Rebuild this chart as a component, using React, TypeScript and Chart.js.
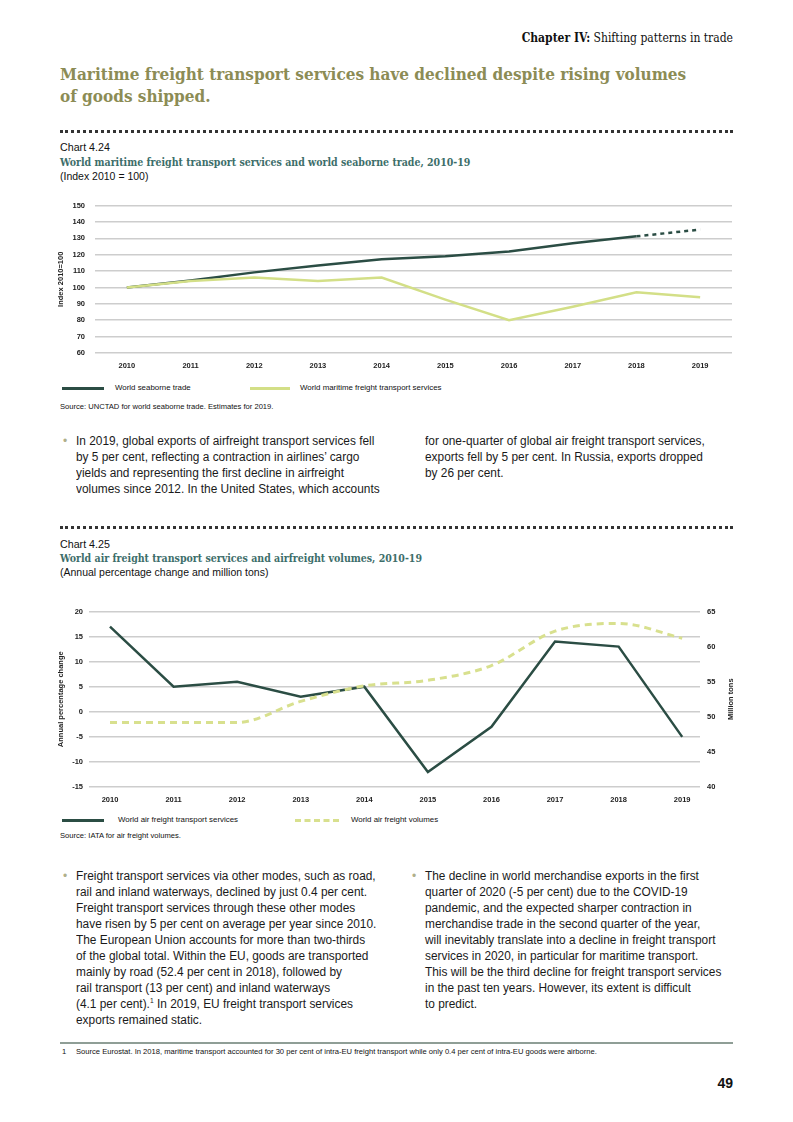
import React, { useEffect, useRef } from "react";
import { Chart, registerables } from "chart.js";

Chart.register(...registerables);

// ---- Chart 4.24 data ----
const years1 = ["2010", "2011", "2012", "2013", "2014", "2015", "2016", "2017", "2018", "2019"];
const seaborneTrade = [100, 104.3, 109.2, 113.4, 117.2, 119.1, 122, 127, 131.2, 135.3];
const maritimeServices = [100, 104, 106, 104, 106, 92.6, 80, 88.2, 97, 94];

// ---- Chart 4.25 data ----
const years2 = [2010, 2011, 2012, 2013, 2014, 2015, 2016, 2017, 2018, 2019];
const airServicesChange = [17, 5, 6, 3, 5, -12, -3, 14, 13, -5];
const airVolumesTons = [49.2, 49.2, 49.2, 52.2, 54.4, 55.2, 57.3, 62.2, 63.3, 61.2];

const DARK = "#2b4d44";
const LIGHT = "#d3df87";
const GRID = "#cdcdcd";
const SANS = "'Liberation Sans', Arial, sans-serif";
const SLAB = "'DejaVu Serif Condensed', 'DejaVu Serif', serif";

function Chart1() {
  const ref = useRef<HTMLCanvasElement>(null);
  useEffect(() => {
    const chart = new Chart(ref.current!, {
      type: "line",
      data: {
        labels: years1,
        datasets: [
          {
            label: "World maritime freight transport services",
            data: maritimeServices,
            borderColor: LIGHT,
            borderWidth: 2.5,
            pointRadius: 0,
            tension: 0,
          },
          {
            label: "World seaborne trade",
            data: seaborneTrade,
            borderColor: DARK,
            borderWidth: 2.5,
            pointRadius: 0,
            tension: 0,
            segment: {
              borderDash: (ctx: any) => (ctx.p1DataIndex === seaborneTrade.length - 1 ? [4, 4] : undefined),
            },
          },
        ],
      },
      options: {
        animation: false,
        responsive: false,
        maintainAspectRatio: false,
        layout: { padding: { top: 0, right: 1, left: 0, bottom: 0 } },
        plugins: { legend: { display: false }, tooltip: { enabled: false } },
        scales: {
          x: {
            type: "category",
            offset: true,
            grid: { display: false, drawTicks: false },
            border: { display: false },
            ticks: { font: { family: SANS, size: 7.5, weight: "bold" }, color: "#222", padding: 8, maxRotation: 0 },
            afterFit: (s: any) => { s.height = 20; },
          },
          y: {
            min: 60,
            max: 150,
            ticks: { stepSize: 10, font: { family: SANS, size: 7.5, weight: "bold" }, color: "#222", padding: 10 },
            grid: { color: GRID, lineWidth: 1.5, drawTicks: false },
            border: { display: false },
            title: { display: true, text: "Index 2010=100", font: { family: SANS, size: 7.5, weight: "bold" }, color: "#222", padding: 0 },
            afterFit: (s: any) => { s.width = 39; },
          },
        },
      },
    });
    return () => chart.destroy();
  }, []);
  return <canvas ref={ref} width={677} height={182} style={{ position: "absolute", left: 56, top: 191, width: 677, height: 182 }} />;
}

const rightTitlePlugin = {
  id: "rightTitle",
  afterDraw(chart: any) {
    const { ctx, chartArea } = chart;
    ctx.save();
    ctx.translate(chart.width - 6, (chartArea.top + chartArea.bottom) / 2);
    ctx.rotate(-Math.PI / 2);
    ctx.font = `bold 7.5px ${SANS}`;
    ctx.fillStyle = "#222";
    ctx.textAlign = "center";
    ctx.textBaseline = "middle";
    ctx.fillText("Million tons", 0, 0);
    ctx.restore();
  },
};

function Chart2() {
  const ref = useRef<HTMLCanvasElement>(null);
  useEffect(() => {
    const chart = new Chart(ref.current!, {
      type: "line",
      data: {
        datasets: [
          {
            label: "World air freight volumes",
            data: years2.map((y, i) => ({ x: y, y: airVolumesTons[i] })),
            yAxisID: "y1",
            borderColor: "#d8e08e",
            borderWidth: 3,
            borderDash: [7, 5],
            pointRadius: 0,
            cubicInterpolationMode: "monotone",
          },
          {
            label: "World air freight transport services",
            data: years2.map((y, i) => ({ x: y, y: airServicesChange[i] })),
            yAxisID: "y",
            borderColor: DARK,
            borderWidth: 2.5,
            pointRadius: 0,
            tension: 0,
          },
        ],
      },
      options: {
        animation: false,
        responsive: false,
        maintainAspectRatio: false,
        layout: { padding: { top: 3, right: 0, left: 0, bottom: 0 } },
        plugins: { legend: { display: false }, tooltip: { enabled: false } },
        scales: {
          x: {
            type: "linear",
            min: 2009.67,
            max: 2019.28,
            grid: { display: false, drawTicks: false },
            border: { display: false },
            afterBuildTicks: (s: any) => { s.ticks = years2.map((v) => ({ value: v })); },
            ticks: { font: { family: SANS, size: 7.5, weight: "bold" }, color: "#222", padding: 8, maxRotation: 0, callback: (v: any) => String(v) },
            afterFit: (s: any) => { s.height = 20; },
          },
          y: {
            position: "left",
            min: -15,
            max: 20,
            ticks: { stepSize: 5, font: { family: SANS, size: 7.5, weight: "bold" }, color: "#222", padding: 6 },
            grid: { color: GRID, lineWidth: 1.5, drawTicks: false },
            border: { display: false },
            title: { display: true, text: "Annual percentage change", font: { family: SANS, size: 7.5, weight: "bold" }, color: "#222", padding: 0 },
            afterFit: (s: any) => { s.width = 33; },
          },
          y1: {
            position: "right",
            min: 40,
            max: 65,
            ticks: { stepSize: 5, font: { family: SANS, size: 7.5, weight: "bold" }, color: "#222", padding: 7 },
            grid: { display: false, drawTicks: false },
            border: { display: false },
            afterFit: (s: any) => { s.width = 37; },
          },
        },
      },
      plugins: [rightTitlePlugin],
    });
    return () => chart.destroy();
  }, []);
  return <canvas ref={ref} width={681} height={207} style={{ position: "absolute", left: 56, top: 600, width: 681, height: 207 }} />;
}

const abs = (left: number, top: number, extra: React.CSSProperties = {}): React.CSSProperties => ({
  position: "absolute",
  left,
  top,
  margin: 0,
  ...extra,
});

function Bullet({ left, top }: { left: number; top: number }) {
  return <div style={abs(left, top, { color: "#b0b08a", fontSize: 12, lineHeight: "16px", fontFamily: SANS })}>•</div>;
}

function Lines({ left, top, lines }: { left: number; top: number; lines: React.ReactNode[] }) {
  return (
    <div
      style={abs(left, top, {
        fontFamily: SANS,
        fontSize: 12.5,
        lineHeight: "16px",
        color: "#1a1a1a",
        whiteSpace: "nowrap",
        transform: "scaleX(0.95)",
        transformOrigin: "0 0",
      })}
    >
      {lines.map((l, i) => (
        <div key={i}>{l}</div>
      ))}
    </div>
  );
}

const small = (size: number): React.CSSProperties => ({ fontFamily: SANS, fontSize: size, lineHeight: "10px", color: "#111", whiteSpace: "nowrap" });

export default function App() {
  return (
    <div style={{ position: "absolute", left: 0, top: 0, width: 793, height: 1122, background: "#fff", overflow: "hidden" }}>
      {/* header */}
      <div style={abs(0, 31, { width: 733, textAlign: "right", fontFamily: SLAB, fontSize: 12, lineHeight: "14px", color: "#111" })}>
        <b>Chapter IV:</b> Shifting patterns in trade
      </div>
      <div style={abs(60, 63, { fontFamily: SLAB, fontWeight: "bold", fontSize: 17, lineHeight: "22px", color: "#8c8c55", whiteSpace: "nowrap" })}>
        Maritime freight transport services have declined despite rising volumes
        <br />
        of goods shipped.
      </div>

      {/* chart 4.24 */}
      <div style={abs(60, 130, { width: 673, borderTop: "3px dotted #333" })} />
      <div style={abs(60, 141, { fontFamily: SANS, fontSize: 10.7, lineHeight: "12px", color: "#111" })}>Chart 4.24</div>
      <div style={abs(60, 155, { fontFamily: SLAB, fontWeight: "bold", fontSize: 10.5, lineHeight: "14px", color: "#3d6e6a", whiteSpace: "nowrap" })}>
        World maritime freight transport services and world seaborne trade, 2010-19
      </div>
      <div style={abs(60, 170, { fontFamily: SANS, fontSize: 10.5, lineHeight: "12px", color: "#111" })}>(Index 2010 = 100)</div>
      <Chart1 />
      <div style={abs(62, 387, { width: 42, height: 3, background: DARK })} />
      <div style={abs(115, 383, small(7.9))}>World seaborne trade</div>
      <div style={abs(250, 387, { width: 40, height: 3, background: LIGHT })} />
      <div style={abs(300, 383, small(7.9))}>World maritime freight transport services</div>
      <div style={abs(60, 402, small(7.6))}>Source: UNCTAD for world seaborne trade. Estimates for 2019.</div>

      {/* body 1 */}
      <Bullet left={63} top={433} />
      <Lines
        left={76}
        top={433}
        lines={[
          "In 2019, global exports of airfreight transport services fell",
          "by 5 per cent, reflecting a contraction in airlines’ cargo",
          "yields and representing the first decline in airfreight",
          "volumes since 2012. In the United States, which accounts",
        ]}
      />
      <Lines
        left={425}
        top={433}
        lines={[
          "for one-quarter of global air freight transport services,",
          "exports fell by 5 per cent. In Russia, exports dropped",
          "by 26 per cent.",
        ]}
      />

      {/* chart 4.25 */}
      <div style={abs(60, 526, { width: 673, borderTop: "3px dotted #333" })} />
      <div style={abs(60, 538, { fontFamily: SANS, fontSize: 10.7, lineHeight: "12px", color: "#111" })}>Chart 4.25</div>
      <div style={abs(60, 551, { fontFamily: SLAB, fontWeight: "bold", fontSize: 10.5, lineHeight: "14px", color: "#3d6e6a", whiteSpace: "nowrap" })}>
        World air freight transport services and airfreight volumes, 2010-19
      </div>
      <div style={abs(60, 566, { fontFamily: SANS, fontSize: 10.5, lineHeight: "12px", color: "#111" })}>(Annual percentage change and million tons)</div>
      <Chart2 />
      <div style={abs(62, 819, { width: 42, height: 3, background: DARK })} />
      <div style={abs(118, 815, small(7.9))}>World air freight transport services</div>
      <div style={abs(295, 819, { width: 44, borderTop: "3px dashed #d8e08e" })} />
      <div style={abs(351, 815, small(7.9))}>World air freight volumes</div>
      <div style={abs(60, 831, small(7.6))}>Source: IATA for air freight volumes.</div>

      {/* body 2 */}
      <Bullet left={63} top={868} />
      <Lines
        left={76}
        top={868}
        lines={[
          "Freight transport services via other modes, such as road,",
          "rail and inland waterways, declined by just 0.4 per cent.",
          "Freight transport services through these other modes",
          "have risen by 5 per cent on average per year since 2010.",
          "The European Union accounts for more than two-thirds",
          "of the global total. Within the EU, goods are transported",
          "mainly by road (52.4 per cent in 2018), followed by",
          "rail transport (13 per cent) and inland waterways",
          <>
            (4.1 per cent).<span style={{ fontSize: 7, verticalAlign: "top", lineHeight: "10px" }}>1</span> In 2019, EU freight transport services
          </>,
          "exports remained static.",
        ]}
      />
      <Bullet left={412} top={868} />
      <Lines
        left={425}
        top={868}
        lines={[
          "The decline in world merchandise exports in the first",
          "quarter of 2020 (-5 per cent) due to the COVID-19",
          "pandemic, and the expected sharper contraction in",
          "merchandise trade in the second quarter of the year,",
          "will inevitably translate into a decline in freight transport",
          "services in 2020, in particular for maritime transport.",
          "This will be the third decline for freight transport services",
          "in the past ten years. However, its extent is difficult",
          "to predict.",
        ]}
      />

      {/* footnote */}
      <div style={abs(60, 1042, { width: 673, height: 2, background: "#8f9e96" })} />
      <div style={abs(62, 1047, small(7.6))}>1</div>
      <div style={abs(76, 1047, small(7.6))}>
        Source Eurostat. In 2018, maritime transport accounted for 30 per cent of intra-EU freight transport while only 0.4 per cent of intra-EU goods were airborne.
      </div>
      <div style={abs(0, 1074, { width: 733, textAlign: "right", fontFamily: SANS, fontWeight: "bold", fontSize: 14, lineHeight: "18px", color: "#111" })}>49</div>
    </div>
  );
}
